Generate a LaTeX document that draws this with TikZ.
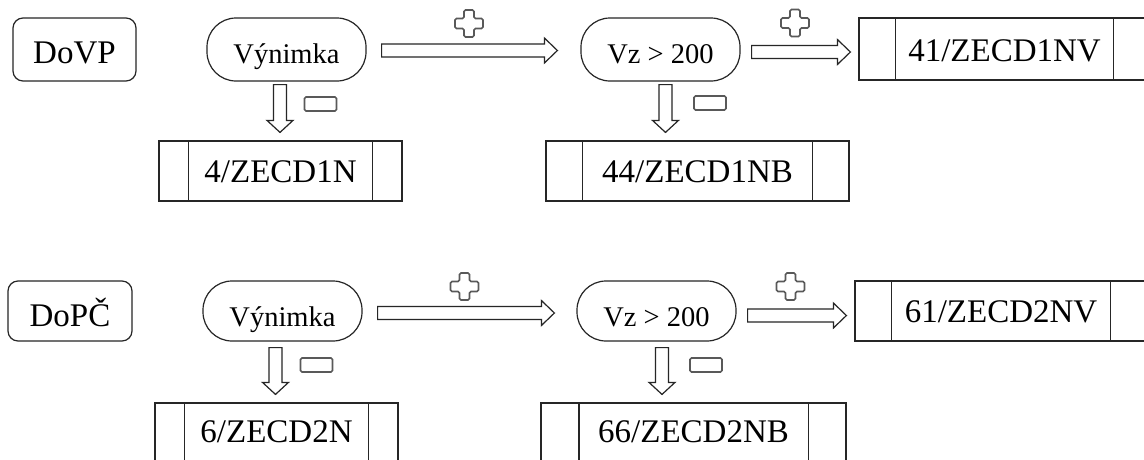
\documentclass[tikz,border=0pt]{standalone}
\usepackage{fontspec}
\setmainfont{Liberation Serif}
\usetikzlibrary{calc}
\tikzset{
  base/.style={draw=black!85, line width=1.2pt, inner sep=0pt, align=center, text depth=0pt},
  lbl/.style={base, rounded corners=10pt, font=\fontsize{33}{36}\selectfont},
  stad/.style={base, rounded corners=29pt, font=\fontsize{28.5}{32}\selectfont, minimum width=159pt},
  procbox/.style={base, font=\fontsize{33}{36}\selectfont},
  hollow/.style={draw=black!85, line width=1.2pt, fill=white, line join=miter},
  harrow/.style={hollow, to path={let \p1=(\tikztostart), \p2=(\tikztotarget) in
    (\x1,\y1+6.5pt) -- (\x2-13pt,\y1+6.5pt) -- (\x2-13pt,\y1+12.5pt) -- (\x2,\y1)
    -- (\x2-13pt,\y1-12.5pt) -- (\x2-13pt,\y1-6.5pt) -- (\x1,\y1-6.5pt) -- cycle}},
  varrow/.style={hollow, to path={let \p1=(\tikztostart), \p2=(\tikztotarget) in
    (\x1-6.5pt,\y1) -- (\x1-6.5pt,\y2+12pt) -- (\x1-13pt,\y2+12pt) -- (\x1,\y2)
    -- (\x1+13pt,\y2+12pt) -- (\x1+6.5pt,\y2+12pt) -- (\x1+6.5pt,\y1) -- cycle}},
  signs/.style={draw=black!65, line width=1.6pt, rounded corners=1.5pt},
  plussign/.pic={\draw[signs] (-5,-13.5) -- (5,-13.5) -- (5,-5) -- (14,-5) -- (14,5) -- (5,5)
    -- (5,13.5) -- (-5,13.5) -- (-5,5) -- (-14,5) -- (-14,-5) -- (-5,-5) -- cycle;},
  minussign/.pic={\draw[signs] (-16,-7) rectangle (16,7);}
}
\newcommand{\innerlines}[2]{%
  \draw[draw=black!85, line width=1.2pt] ([xshift=#2]#1.north west) -- ([xshift=#2]#1.south west);
  \draw[draw=black!85, line width=1.2pt] ([xshift=-#2]#1.north east) -- ([xshift=-#2]#1.south east);}
\begin{document}
\begin{tikzpicture}[x=1pt,y=-1pt]
\useasboundingbox (0,0) rectangle (1144,459);
\clip (0,0) rectangle (1144,459);
\fill[white] (0,0) rectangle (1144,459);

% row 1
\node[lbl, minimum width=123pt, minimum height=63pt, text height=27pt] (l1) at (74.5,49.5) {DoVP};
\node[stad, minimum height=63pt, text height=27pt] (v1) at (286.5,49.5) {Výnimka};
\node[stad, minimum height=63pt, text height=27pt] (z1) at (660.5,49.5) {Vz > 200};
\node[procbox, minimum width=291pt, minimum height=62pt, text height=24pt] (b41) at (1004.5,49) {41/ZECD1NV};
\node[procbox, minimum width=243pt, minimum height=60pt, text height=22pt] (b4) at (280.5,171) {4/ZECD1N};
\node[procbox, minimum width=303pt, minimum height=60pt, text height=22pt] (b44) at (697.5,171) {44/ZECD1NB};
\innerlines{b41}{37pt}
\innerlines{b4}{30pt}
\innerlines{b44}{37pt}

\draw[harrow] ([xshift=15pt,yshift=-1pt]v1.east) to ([xshift=-23pt,yshift=-1pt]z1.west);
\draw[harrow] ([xshift=11pt,yshift=-2.5pt]z1.east) to ([xshift=-8pt,yshift=-2.5pt]b41.west);
\draw[varrow] ([xshift=-6.5pt,yshift=-3pt]v1.south) to ([yshift=8pt]b4.north);
\draw[varrow] ([xshift=5pt,yshift=-3pt]z1.south) to ([yshift=8pt]b44.north);
\pic at (469,23.5) {plussign};
\pic at (795,23) {plussign};
\pic at (320.5,104) {minussign};
\pic at (710,103) {minussign};

% row 2
\node[lbl, minimum width=124pt, minimum height=60pt, text height=30pt] (l2) at (70,311) {DoPČ};
\node[stad, minimum height=60pt, text height=30pt] (v2) at (282.5,311) {Výnimka};
\node[stad, minimum height=60pt, text height=30pt] (z2) at (656.5,311) {Vz > 200};
\node[procbox, minimum width=292pt, minimum height=60pt, text height=22pt] (b61) at (1001,311) {61/ZECD2NV};
\node[procbox, minimum width=243pt, minimum height=60pt, text height=18pt] (b6) at (276.5,433) {6/ZECD2N};
\node[procbox, minimum width=305pt, minimum height=60pt, text height=18pt] (b66) at (693.5,433) {66/ZECD2NB};
\innerlines{b61}{37pt}
\innerlines{b6}{30pt}
\innerlines{b66}{38.5pt}

\draw[harrow] ([xshift=15pt,yshift=-2pt]v2.east) to ([xshift=-22pt,yshift=-2pt]z2.west);
\draw[harrow] ([xshift=11pt,yshift=-4.5pt]z2.east) to ([xshift=-8pt,yshift=-4.5pt]b61.west);
\draw[varrow] ([xshift=-7pt,yshift=-6pt]v2.south) to ([yshift=8pt]b6.north);
\draw[varrow] ([xshift=5.5pt,yshift=-6pt]z2.south) to ([yshift=8pt]b66.north);
\pic at (464.5,286.5) {plussign};
\pic at (790.5,286.5) {plussign};
\pic at (316.5,365) {minussign};
\pic at (706,365) {minussign};
\end{tikzpicture}
\end{document}
